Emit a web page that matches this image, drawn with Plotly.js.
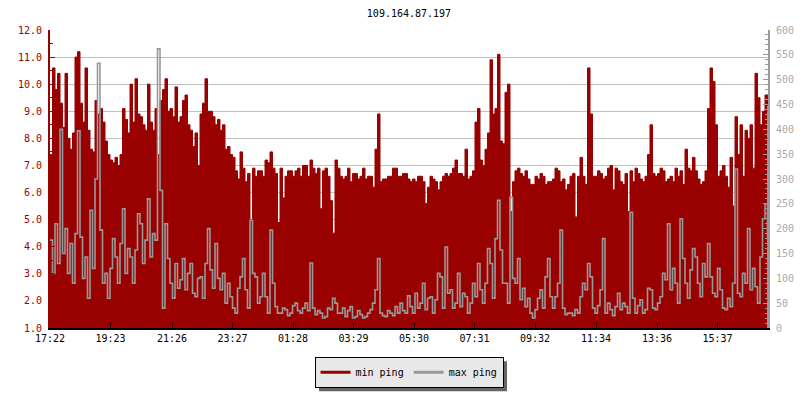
<!DOCTYPE html>
<html>
<head>
<meta charset="utf-8">
<script src="https://cdn.plot.ly/plotly-3.0.1.min.js"></script>
<style>html,body{margin:0;padding:0;background:#fff;}#chart{width:800px;height:400px;}</style>
</head>
<body>
<div id="chart"></div>
<script>
// ---- data ----
const chartTitle = "109.164.87.197";
const seriesNames = ["min ping", "max ping"];
const startTime = "17:22";      // first sample
const sampleStepMinutes = 5;    // one sample every 5 minutes
const rangeMinutes = 1436;      // span of the time axis

const tickLabels = ["17:22","19:23","21:26","23:27","01:28","03:29","05:30","07:31","09:32","11:34","13:36","15:37"];

// min ping (left axis, ms)
const minPing = [
 7.4,10.6, 9.8,10.4, 9.3,8.4, 10.4,8.0, 7.6,8.2, 11.0,11.2, 9.3,8.6, 10.6,8.3, 7.6,7.5, 9.4,8.9,
 9.1,8.6, 7.9,7.4, 7.2,7.1, 7.3,7.0, 7.4,9.1, 8.7,8.2, 10.0,8.6, 10.2,8.9, 8.8,8.5, 8.3,10.0,
 8.6,8.3, 9.1,7.4, 9.4,9.8, 10.2,9.0, 9.1,8.8, 9.9,8.6, 8.8,9.4, 9.6,8.5, 8.3,7.7, 8.2,7.0,
 8.9,9.3, 10.2,9.0, 9.0,8.8, 8.5,8.7, 8.3,8.5, 7.6,7.7, 7.4,7.3, 6.8,6.5, 7.5,6.9, 6.4,6.7,
 5.0,6.9, 6.6,6.8, 6.8,6.6, 7.2,7.1, 7.5,6.9, 6.7,4.9, 6.9,5.8, 6.6,6.8, 6.8,6.6, 6.8,6.9,
 6.6,7.0, 7.0,6.6, 7.2,6.9, 6.7,6.9, 5.4,6.8, 6.9,6.6, 5.7,4.5, 7.2,6.9, 6.6,6.5, 6.6,6.9,
 6.4,6.7, 6.7,6.5, 6.6,6.9, 6.5,6.6, 6.6,6.2, 7.6,8.9, 6.4,6.5, 6.5,6.6, 6.6,6.9, 6.9,6.6,
 6.6,6.7, 6.7,6.5, 6.4,6.5, 6.4,6.6, 6.6,6.4, 5.6,6.2, 6.6,6.5, 6.4,6.1, 6.4,6.6, 6.7,6.6,
 6.7,6.9, 7.2,6.7, 6.7,6.6, 7.6,6.5, 6.6,6.8, 8.6,9.1, 7.2,7.0, 7.6,8.2, 10.9,8.9, 9.1,11.1,
 7.9,7.8, 9.7,10.0, 5.3,6.4, 6.8,6.9, 6.7,6.6, 6.8,6.5, 6.3,6.3, 6.6,6.5, 6.7,6.6, 6.3,6.4,
 6.4,6.5, 6.9,6.8, 6.4,6.5, 6.1,6.3, 6.6,6.7, 5.1,6.6, 7.3,6.6, 6.3,10.6, 8.9,6.6, 6.6,6.8,
 6.7,6.5, 6.6,6.9, 7.0,6.1, 6.9,6.8, 6.4,6.3, 6.7,5.3, 6.8,6.4, 6.9,6.7, 6.5,6.4, 6.6,7.4,
 8.5,6.7, 6.6,6.7, 6.9,6.8, 6.4,6.5, 6.6,6.4, 6.9,6.6, 6.8,6.3, 7.6,6.9, 6.8,7.3, 6.8,6.5,
 6.3,6.4, 6.8,9.1, 10.6,10.1, 8.5,6.6, 6.8,7.0, 6.6,6.2, 7.3,5.5, 8.8,7.4, 8.5,6.6, 8.3,8.0,
 8.5,6.9, 10.4,9.5, 8.5,9.0, 9.6,9.2
];

// max ping (right axis, ms)
const maxPing = [
 177,110, 210,130, 400,150, 200,110, 170,90, 190,397, 183,100, 143,60, 237,120, 300,533,
 197,90, 110,60, 120,180, 143,90, 170,240, 110,160, 143,90, 157,230, 210,130, 177,260,
 143,190, 177,562, 277,40, 210,140, 90,60, 130,80, 97,140, 77,110, 130,70, 63,100,
 103,60, 130,200, 117,80, 170,100, 77,110, 50,90, 63,40, 30,80, 103,140, 77,40,
 217,110, 103,50, 63,110, 63,30, 197,90, 43,30, 30,40, 37,25, 30,45, 50,35,
 30,40, 50,35, 131,40, 27,35, 30,20, 23,40, 37,60, 50,30, 30,40, 23,35,
 43,20, 23,35, 27,20, 23,30, 37,50, 77,140, 30,25, 23,35, 30,25, 43,30,
 50,35, 30,65, 43,30, 70,40, 50,90, 37,60, 63,30, 57,110, 103,40, 163,70,
 77,40, 50,110, 43,70, 63,30, 50,90, 63,130, 77,50, 90,160, 130,60, 180,257,
 157,90, 90,50, 263,100, 90,140, 57,80, 43,60, 30,20, 37,60, 77,40, 103,140,
 63,40, 63,90, 197,40, 27,30, 30,25, 37,30, 63,90, 77,130, 103,40, 30,45,
 77,180, 30,50, 37,25, 43,70, 37,50, 43,30, 233,60, 30,45, 57,30, 37,80,
 77,40, 37,50, 63,110, 97,210, 77,120, 90,50, 220,140, 90,60, 117,160, 143,90,
 63,130, 103,170, 103,70, 63,120, 77,40, 37,60, 43,90, 320,70, 63,110, 90,200,
 77,120, 83,50, 143,220, 250,180
];

// ---- helpers ----
function toMin(hhmm){ const p = hhmm.split(":"); return (+p[0])*60 + (+p[1]); }
function pad(n){ return (n<10?"0":"") + n; }
function stamp(m){
  const day = 1 + Math.floor(m/1440);
  const r = m % 1440;
  return "2024-01-" + pad(day) + " " + pad(Math.floor(r/60)) + ":" + pad(r%60);
}
const startMin = toMin(startTime);
const times = minPing.map((_, i) => stamp(startMin + i*sampleStepMinutes));
const tickVals = tickLabels.map(t => { let m = toMin(t); if (m < startMin) m += 1440; return stamp(m); });

const FONT = "DejaVu Sans Mono, Liberation Mono, monospace";
const RED = "#990000";
const GRAY = "#999999";

const traces = [
  { x: times, y: minPing, type: "scatter", mode: "lines", fill: "tozeroy",
    fillcolor: RED, line: {color: RED, width: 1, shape: "hv"}, showlegend: false, hoverinfo: "skip" },
  { x: times, y: maxPing, type: "scatter", mode: "lines", yaxis: "y2",
    line: {color: GRAY, width: 1.6, shape: "hv"}, showlegend: false, hoverinfo: "skip" },
  // legend entries only
  { x: [null], y: [null], type: "scatter", mode: "lines", name: seriesNames[0], line: {color: RED, width: 3} },
  { x: [null], y: [null], type: "scatter", mode: "lines", name: seriesNames[1], yaxis: "y2", line: {color: GRAY, width: 3} }
];

const layout = {
  width: 800, height: 400,
  margin: {l: 50, r: 32, t: 30, b: 70, pad: 0},
  paper_bgcolor: "#ffffff", plot_bgcolor: "#ffffff",
  font: {family: FONT, size: 10, color: "#000"},
  title: {text: chartTitle, font: {family: FONT, size: 10, color: "#000"},
          x: 0.5, xref: "paper", xanchor: "center", y: 1 - 13/400, yref: "container", yanchor: "middle"},
  xaxis: {
    type: "date", range: [stamp(startMin), stamp(startMin + rangeMinutes)],
    tickvals: tickVals, ticktext: tickLabels,
    ticks: "inside", ticklen: 5, tickwidth: 1, tickcolor: "#000",
    showline: true, linecolor: "#000", linewidth: 2,
    showgrid: false, zeroline: false,
    tickfont: {family: FONT, size: 10, color: "#000"}
  },
  yaxis: {
    range: [1, 12], dtick: 1, tick0: 1, tickformat: ".1f",
    ticks: "inside", ticklen: 5, tickwidth: 1, tickcolor: RED,
    minor: {dtick: 0.5, ticks: "inside", ticklen: 3, tickcolor: RED, showgrid: false},
    showline: true, linecolor: RED, linewidth: 2,
    showgrid: true, gridcolor: "#c0c0c0", gridwidth: 1, zeroline: false,
    ticklabelstandoff: 4,
    tickfont: {family: FONT, size: 10, color: RED}
  },
  yaxis2: {
    overlaying: "y", side: "right", range: [0, 600], dtick: 50, tick0: 0,
    ticks: "inside", ticklen: 5, tickwidth: 1, tickcolor: GRAY,
    minor: {dtick: 10, ticks: "inside", ticklen: 3, tickcolor: GRAY, showgrid: false},
    showline: true, linecolor: GRAY, linewidth: 2,
    showgrid: false, zeroline: false,
    ticklabelstandoff: 4,
    tickfont: {family: FONT, size: 10, color: "#aaaaaa"}
  },
  legend: {
    orientation: "h", x: 0.5, xanchor: "center", xref: "paper",
    y: -29/300, yanchor: "top", yref: "paper",
    bgcolor: "#e8e8e8", bordercolor: "#000", borderwidth: 1,
    font: {family: FONT, size: 10, color: "#000"},
    itemwidth: 30, tracegroupgap: 0, itemclick: false, itemdoubleclick: false
  },
  showlegend: true
};

Plotly.newPlot("chart", traces, layout, {displayModeBar: false, staticPlot: true}).then(gd => {
  // drop shadow behind legend box
  const bg = gd.querySelector(".legend .bg");
  if (!bg) return;
  const r = bg.getBoundingClientRect();
  const c = gd.getBoundingClientRect();
  const fs = gd._fullLayout._size;
  const toPX = px => (px - c.left - fs.l) / fs.w;
  const toPY = py => 1 - (py - c.top - fs.t) / fs.h;
  Plotly.relayout(gd, {shapes: [{
    type: "rect", xref: "paper", yref: "paper", layer: "above",
    x0: toPX(r.left + 4), x1: toPX(r.right + 4), y0: toPY(r.bottom + 4), y1: toPY(r.top + 4),
    fillcolor: "#666666", line: {width: 0}
  }]});
});
</script>
</body>
</html>
